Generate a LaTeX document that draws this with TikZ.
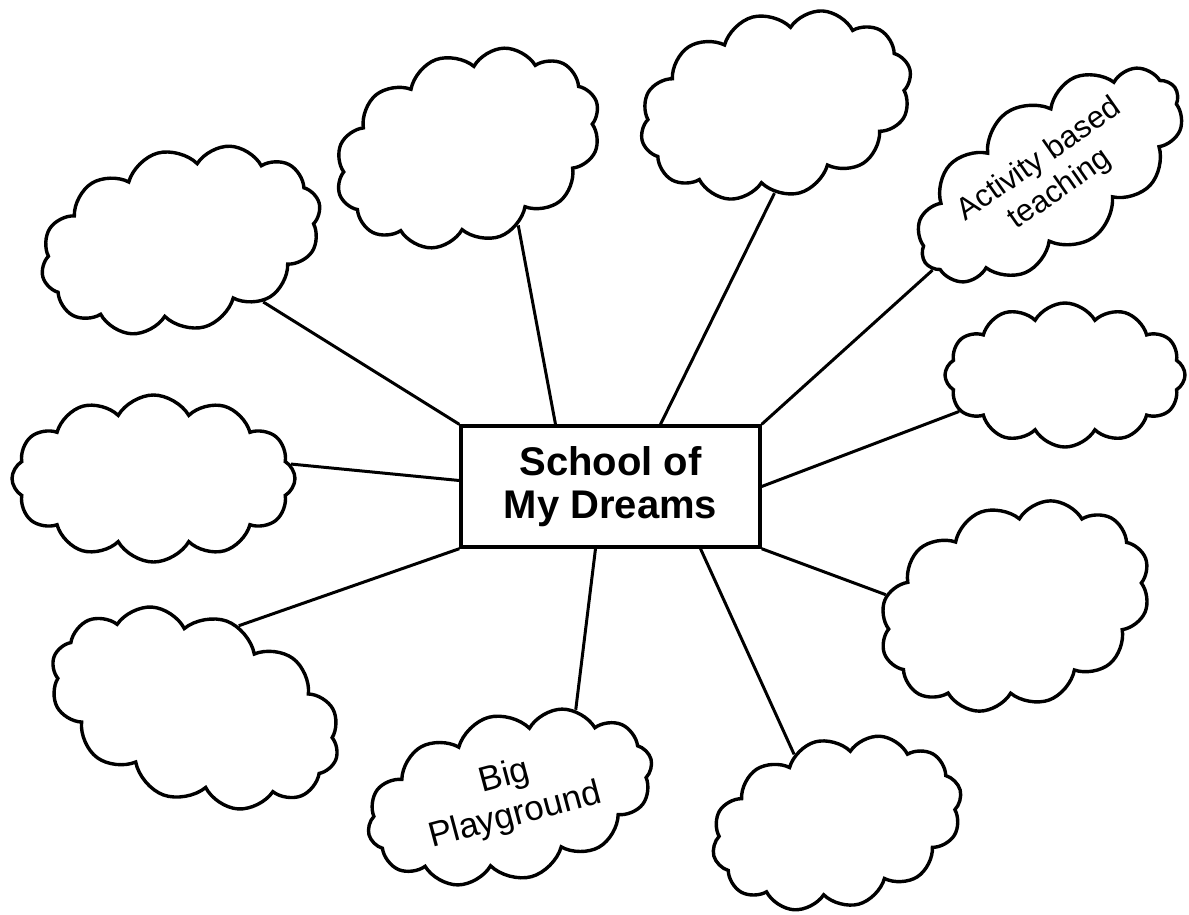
\documentclass[tikz,border=0pt]{standalone}
\usepackage{fontspec}
\setmainfont{Liberation Sans}
\usetikzlibrary{shapes.symbols}
\begin{document}
\begin{tikzpicture}[x=1pt,y=-1pt,
  puff/.style={cloud, draw, line width=3.4pt, cloud puffs=#1, cloud puff arc=120,
    cloud ignores aspect, inner sep=0pt, align=center},
  puff/.default=12,
  link/.style={line width=3pt},
  hub/.style={draw, line width=3.4pt, minimum width=299pt, minimum height=121pt,
    inner sep=0pt, align=center, font=\bfseries\fontsize{40}{43}\selectfont}]
\useasboundingbox (0,0) rectangle (1189,914);
\fill[white] (0,0) rectangle (1189,914);

\node[hub] (box) at (610.5,486.5) {School of\\My Dreams};

\node[puff=12, minimum width=286pt, minimum height=180pt, rotate=15] (c1) at (181,240) {};
\node[puff=12, minimum width=273pt, minimum height=188pt, rotate=20] (c2) at (468,148) {};
\node[puff=12, minimum width=277pt, minimum height=182pt, rotate=15] (c3) at (776,105) {};
\node[puff=12, minimum width=305pt, minimum height=152pt, rotate=35,
      font=\fontsize{31}{36}\selectfont] (c4) at (1050,175) {Activity based\\teaching};
\node[puff=12, minimum width=240pt, minimum height=144pt] (c5) at (1065,375) {};
\node[puff=12, minimum width=283pt, minimum height=167pt] (c6) at (153.5,478.5) {};
\node[puff=12, minimum width=278pt, minimum height=200pt, rotate=20] (c7) at (1015,606) {};
\node[puff=12, minimum width=300pt, minimum height=185pt, rotate=-20] (c8) at (195,708) {};
\node[puff=12, minimum width=292pt, minimum height=165pt, rotate=15,
      font=\fontsize{35}{40}\selectfont] (c9) at (510,797) {Big\\Playground};
\node[puff=12, minimum width=255pt, minimum height=168pt, rotate=15] (c10) at (837,823) {};

\draw[link] (box.north west) -- (c1.308);
\draw[link] ([xshift=-55pt]box.north) -- (c2.283);
\draw[link] ([xshift=50pt]box.north) -- (c3.254);
\draw[link] (box.north east) -- (c4.184);
\draw[link] (box.east) -- (c5.199);
\draw[link] ([yshift=6pt]box.west) -- (c6.6);
\draw[link] (box.south east) -- (c7.155);
\draw[link] (box.south west) -- (c8.82);
\draw[link] ([xshift=-15pt]box.south) -- (c9.38);
\draw[link] ([xshift=90pt]box.south) -- (c10.107);
\end{tikzpicture}
\end{document}
